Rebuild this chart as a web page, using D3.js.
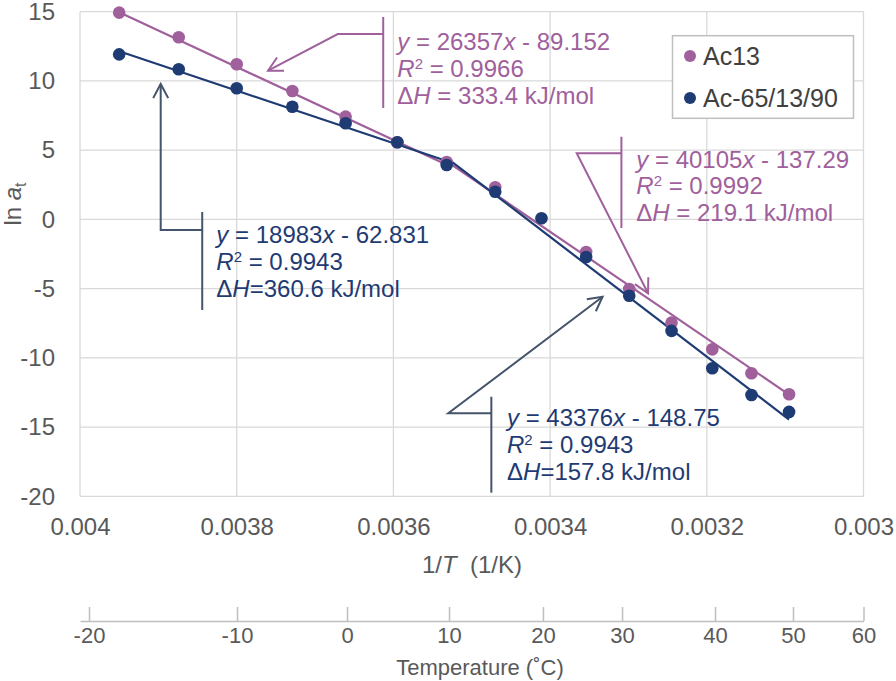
<!DOCTYPE html>
<html lang="en">
  <head>
    <meta charset="UTF-8" />
    <title>ln aT vs 1/T</title>
    <script src="https://d3js.org/d3.v7.min.js"></script>
    <style>
      body {
        margin: 0;
        background: #fff;
      }
      svg {
        font-family: "Liberation Sans", Arial, sans-serif;
      }
      .pre {
        white-space: pre;
      }
    </style>
  </head>
  <body>
    <div class="chart"></div>
  </body>

  <script>
    // 1/T (1/K) of each measurement, -20 .. 50 C in 5 C steps
    var invT = [0.00395, 0.003874, 0.0038, 0.003729, 0.003661, 0.003595, 0.003532, 0.00347,
      0.003411, 0.003354, 0.003299, 0.003245, 0.003193, 0.003143, 0.003095];
    var lnAtAc13 = [14.93, 13.15, 11.2, 9.27, 7.42, 5.57, 4.15, 2.32, null, -2.35, -5.02,
      -7.45, -9.38, -11.11, -12.62];
    var lnAtAc65 = [11.92, 10.84, 9.47, 8.14, 6.94, 5.57, 3.93, 2.0, 0.08, -2.71, -5.51,
      -8.05, -10.75, -12.68, -13.9];

    // trend line segments [x1, y1, x2, y2]
    var trendAc13 = [[0.00395, 14.96, 0.003532, 3.94], [0.003532, 4.2, 0.003095, -12.65]];
    var trendAc65 = [[0.00395, 12.15, 0.003532, 4.22], [0.003532, 4.45, 0.003095, -14.45]];

    var seriesNames = ["Ac13", "Ac-65/13/90"];

    var xTicks = [0.004, 0.0038, 0.0036, 0.0034, 0.0032, 0.003];
    var yTicks = [15, 10, 5, 0, -5, -10, -15, -20];
    var tempTicks = [-20, -10, 0, 10, 20, 30, 40, 50, 60];
    // where the temperature ticks sit on the 1/T axis
    var tempTickInvT = [0.0039885, 0.0037996, 0.0036592, 0.003529, 0.0034091, 0.0033082,
      0.0031895, 0.00309, 0.003];

    // fit labels: Ac13 low T, Ac13 high T, Ac-65 low T, Ac-65 high T
    var annSlope = ["26357", "40105", "18983", "43376"];
    var annIntercept = ["89.152", "137.29", "62.831", "148.75"];
    var annR2 = ["0.9966", "0.9992", "0.9943", "0.9943"];
    var annDH = ["333.4", "219.1", "360.6", "157.8"];
    var annDHSep = [" = ", " = ", "=", "="];
    var annSeries = [0, 0, 1, 1];
    // callouts in data units: arrow tip, elbow, bar x, bar top/bottom, text anchor
    var annTip = [[0.00376, 10.74], [0.003275, -5.33], [0.003897, 9.78], [0.003333, -5.58]];
    var annElbow = [[0.003671, 13.39], [0.003366, 4.78], [0.003897, -0.76], [0.00353, -14.0]];
    var annBarX = [0.003613, 0.003309, 0.003844, 0.003475];
    var annBarY = [[14.62, 8.05], [5.97, -0.62], [0.54, -6.54], [-12.8, -19.73]];
    var annText = [[0.003595, 12.83], [0.00329, 4.34], [0.003826, -1.12], [0.003455, -14.34]];

    var colors = ["#a0609c", "#1f3b73"];
    var calloutColors = ["#a0609c", "#44546a"];
    var textGray = "#595959";
    var gridColor = "#d9d9d9";

    var W = 896, H = 681;
    var margin = { top: 11.7, left: 80 };
    var width = 783.5, height = 484.7;

    var svg = d3.select(".chart").append("svg").attr("width", W).attr("height", H);

    var x = d3.scaleLinear().domain([0.004, 0.003]).range([margin.left, margin.left + width]);
    var y = d3.scaleLinear().domain([-20, 15]).range([margin.top + height, margin.top]);

    // grid
    svg.append("g").selectAll("line").data(xTicks).join("line")
      .attr("x1", d => x(d)).attr("x2", d => x(d))
      .attr("y1", y(15)).attr("y2", y(-20))
      .attr("stroke", gridColor).attr("stroke-width", 1.3);
    svg.append("g").selectAll("line").data(yTicks).join("line")
      .attr("x1", x(0.004)).attr("x2", x(0.003))
      .attr("y1", d => y(d)).attr("y2", d => y(d))
      .attr("stroke", gridColor).attr("stroke-width", 1.3);

    // axes
    var xAxis = svg.append("g")
      .attr("transform", "translate(0," + y(-20) + ")")
      .call(d3.axisBottom(x).tickValues(xTicks).tickSize(0).tickPadding(22)
        .tickFormat(d => String(+d.toFixed(4))));
    var yAxis = svg.append("g")
      .attr("transform", "translate(" + x(0.004) + ",0)")
      .call(d3.axisLeft(y).tickValues(yTicks).tickSize(0).tickPadding(25)
        .tickFormat(d => String(d)));
    [xAxis, yAxis].forEach(function (g) {
      g.select(".domain").remove();
      g.selectAll("text").attr("fill", textGray).style("font-size", "24px")
        .style("font-family", "'Liberation Sans', Arial, sans-serif");
    });

    // temperature axis
    var tAxis = svg.append("g")
      .attr("transform", "translate(0,621)")
      .call(d3.axisBottom(x).tickValues(tempTickInvT)
        .tickFormat((d, i) => String(tempTicks[i]))
        .tickSizeInner(-14).tickSizeOuter(0).tickPadding(6));
    tAxis.select(".domain").attr("stroke", "#bfbfbf").attr("stroke-width", 1.5);
    tAxis.selectAll(".tick line").attr("stroke", "#bfbfbf").attr("stroke-width", 1.5);
    tAxis.selectAll("text").attr("fill", textGray).style("font-size", "22px")
      .style("font-family", "'Liberation Sans', Arial, sans-serif");

    // axis titles
    var xt = svg.append("text").attr("class", "pre")
      .attr("x", 472).attr("y", 565).attr("dy", "0.35em")
      .attr("text-anchor", "middle").attr("fill", textGray).style("font-size", "24px");
    xt.append("tspan").text("1/");
    xt.append("tspan").attr("font-style", "italic").text("T");
    xt.append("tspan").text("  (1/K)");

    svg.append("text")
      .attr("x", 480).attr("y", 667).attr("dy", "0.35em")
      .attr("text-anchor", "middle").attr("fill", textGray).style("font-size", "22px")
      .text("Temperature (\u02DAC)");

    var yt = svg.append("text").attr("class", "pre")
      .attr("transform", "translate(21,204) rotate(-90)")
      .attr("text-anchor", "middle").attr("fill", textGray).style("font-size", "24px");
    yt.append("tspan").text("ln ");
    yt.append("tspan").attr("font-style", "italic").text("a");
    yt.append("tspan").attr("dy", 5).style("font-size", "16px").text("t");

    // trend lines
    [trendAc13, trendAc65].forEach(function (segs, s) {
      svg.append("g").selectAll("line").data(segs).join("line")
        .attr("x1", d => x(d[0])).attr("y1", d => y(d[1]))
        .attr("x2", d => x(d[2])).attr("y2", d => y(d[3]))
        .attr("stroke", colors[s]).attr("stroke-width", 2.2);
    });

    // points
    [lnAtAc13, lnAtAc65].forEach(function (vals, s) {
      var pts = invT.map((t, i) => ({ x: t, y: vals[i] })).filter(d => d.y !== null);
      svg.append("g").selectAll("circle").data(pts).join("circle")
        .attr("cx", d => x(d.x)).attr("cy", d => y(d.y))
        .attr("r", 6.3).attr("fill", colors[s]);
    });

    // callouts
    var arm = 16, spread = 28 * Math.PI / 180;
    annSeries.forEach(function (s, i) {
      var col = calloutColors[s];
      var tip = [x(annTip[i][0]), y(annTip[i][1])];
      var elb = [x(annElbow[i][0]), y(annElbow[i][1])];
      var bx = x(annBarX[i]);
      var g = svg.append("g").attr("fill", "none").attr("stroke", col)
        .attr("stroke-width", 2).attr("stroke-linejoin", "miter");
      g.append("path").attr("d", d3.line()([tip, elb, [bx, elb[1]]]));
      g.append("line").attr("x1", bx).attr("x2", bx)
        .attr("y1", y(annBarY[i][0])).attr("y2", y(annBarY[i][1]));
      var a = Math.atan2(elb[1] - tip[1], elb[0] - tip[0]);
      var head = [
        [tip[0] + arm * Math.cos(a - spread), tip[1] + arm * Math.sin(a - spread)],
        tip,
        [tip[0] + arm * Math.cos(a + spread), tip[1] + arm * Math.sin(a + spread)]
      ];
      g.append("path").attr("d", d3.line()(head));

      var tx = x(annText[i][0]), ty = y(annText[i][1]);
      var txt = svg.append("text").attr("class", "pre").attr("fill", colors[s])
        .style("font-size", "24px");
      txt.append("tspan").attr("x", tx).attr("y", ty).attr("dy", "0.35em")
        .attr("font-style", "italic").text("y");
      txt.append("tspan").text(" = " + annSlope[i]);
      txt.append("tspan").attr("font-style", "italic").text("x");
      txt.append("tspan").text(" - " + annIntercept[i]);

      txt.append("tspan").attr("x", tx).attr("y", ty + 26.7).attr("dy", "0.35em")
        .attr("font-style", "italic").text("R");
      txt.append("tspan").attr("dy", -8).style("font-size", "15px").text("2");
      txt.append("tspan").attr("dy", 8).text(" = " + annR2[i]);

      txt.append("tspan").attr("x", tx).attr("y", ty + 53.4).attr("dy", "0.35em").text("\u0394");
      txt.append("tspan").attr("font-style", "italic").text("H");
      txt.append("tspan").text(annDHSep[i] + annDH[i] + " kJ/mol");
    });

    // legend
    var lg = svg.append("g");
    lg.append("rect").attr("x", 672.5).attr("y", 35.7).attr("width", 181).attr("height", 82.6)
      .attr("fill", "#fff").attr("stroke", "#bfbfbf").attr("stroke-width", 1.5);
    seriesNames.forEach(function (name, s) {
      var ly = 56 + s * 42;
      lg.append("circle").attr("cx", 690).attr("cy", ly).attr("r", 6).attr("fill", colors[s]);
      lg.append("text").attr("x", 703).attr("y", ly).attr("dy", "0.35em")
        .attr("fill", "#404040").style("font-size", "25px").text(name);
    });
  </script>
</html>
